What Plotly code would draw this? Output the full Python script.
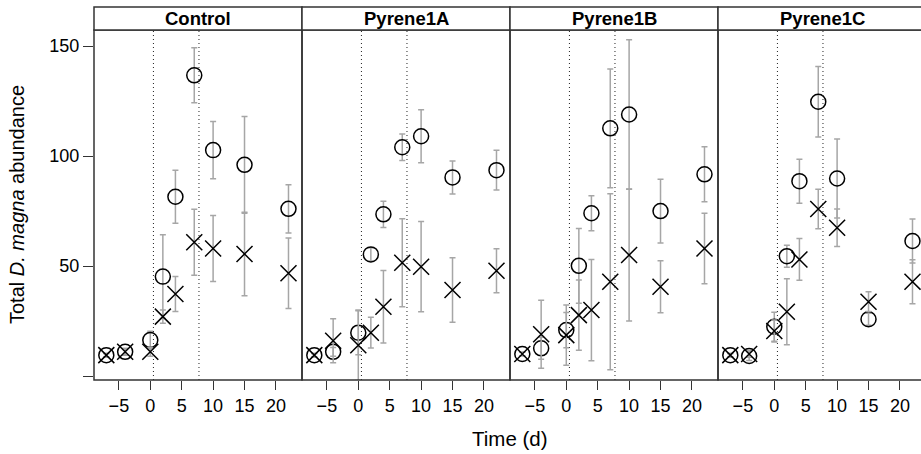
import plotly.graph_objects as go
from plotly.subplots import make_subplots

days = [-7, -4, 0, 2, 4, 7, 10, 15, 22]
panels = ["Control", "Pyrene1A", "Pyrene1B", "Pyrene1C"]

circle_mean = {
    "Control":  [9.5, 11.0, 16.4, 45.2, 81.5, 136.7, 102.7, 96.0, 76.0],
    "Pyrene1A": [9.5, 11.0, 19.7, 55.3, 73.5, 104.0, 109.0, 90.3, 93.6],
    "Pyrene1B": [10.0, 12.6, 20.9, 50.1, 74.0, 112.6, 118.9, 75.0, 91.7],
    "Pyrene1C": [9.5, 9.1, 22.4, 54.5, 88.6, 124.7, 89.8, 25.8, 61.4],
}
circle_err = {
    "Control":  [0.8, 1.5, 4.0, 19.0, 12.0, 12.5, 13.0, 22.0, 11.0],
    "Pyrene1A": [0.8, 2.0, 10.0, 3.0, 6.0, 6.0, 12.0, 7.5, 9.0],
    "Pyrene1B": [0.8, 5.0, 8.0, 17.0, 8.0, 27.0, 34.0, 14.5, 12.5],
    "Pyrene1C": [0.8, 2.0, 6.6, 5.0, 10.0, 16.0, 18.0, 2.7, 10.0],
}
cross_mean = {
    "Control":  [9.5, 11.0, 11.0, 27.0, 37.3, 60.8, 58.0, 55.5, 46.7],
    "Pyrene1A": [9.5, 16.0, 14.0, 19.7, 31.5, 51.5, 49.7, 39.1, 47.9],
    "Pyrene1B": [10.0, 19.0, 18.6, 27.7, 30.0, 42.9, 55.0, 40.6, 58.0],
    "Pyrene1C": [9.5, 10.0, 20.5, 29.2, 53.0, 75.9, 67.4, 33.8, 42.9],
}
cross_err = {
    "Control":  [0.8, 1.5, 2.0, 3.0, 8.0, 15.0, 15.0, 19.0, 16.0],
    "Pyrene1A": [0.8, 10.0, 16.0, 7.0, 16.5, 20.0, 20.5, 14.7, 10.0],
    "Pyrene1B": [0.8, 15.5, 13.7, 16.0, 23.0, 40.0, 30.0, 11.8, 16.0],
    "Pyrene1C": [0.8, 1.5, 5.0, 15.0, 9.5, 9.0, 8.5, 4.5, 10.0],
}
exposure_lines = [0.5, 7.75]
x_ticks = [-5, 0, 5, 10, 15, 20]
y_ticks = [0, 50, 100, 150]
y_ticktext = ["", "50", "100", "150"]

FONT = "Liberation Sans, Arial, Helvetica, sans-serif"
W, H = 921, 454
ML, MR, MT, MB = 94, 0, 7, 74
plot_w = W - ML - MR
plot_h = H - MT - MB
panel_px = 208
strip_px = 23
dom_top = (plot_h - strip_px) / plot_h

fig = make_subplots(rows=1, cols=4, shared_yaxes=True, horizontal_spacing=0)

err_color = "#a6a6a6"
for i, p in enumerate(panels):
    col = i + 1
    fig.add_trace(go.Scatter(
        x=days, y=circle_mean[p], mode="markers", name="circle", showlegend=False,
        marker=dict(symbol="circle-open", size=15, color="black", line=dict(width=1.5, color="black")),
        error_y=dict(type="data", array=circle_err[p], color=err_color, thickness=1.5, width=3),
    ), row=1, col=col)
    fig.add_trace(go.Scatter(
        x=days, y=cross_mean[p], mode="markers", name="cross", showlegend=False,
        marker=dict(symbol="x-thin-open", size=16, color="black", line=dict(width=1.5, color="black")),
        error_y=dict(type="data", array=cross_err[p], color=err_color, thickness=1.5, width=3),
    ), row=1, col=col)

xmin = -8.96
xspan = 33.11
edges = [ML + k * panel_px for k in range(5)]
shapes = []
annotations = []
for i, p in enumerate(panels):
    x0 = (edges[i] - ML) / plot_w
    x1 = min((edges[i + 1] - ML) / plot_w, 1.0)
    right = xmin + xspan * ((min(edges[i + 1], W) - edges[i]) / panel_px)
    axname = "xaxis" if i == 0 else f"xaxis{i+1}"
    fig.layout[axname].update(
        domain=[x0, x1], range=[xmin, right], tickvals=x_ticks,
        ticks="outside", ticklen=9, tickwidth=1, tickcolor="#333",
        showgrid=False, zeroline=False, showline=False,
        tickfont=dict(family=FONT, size=18, color="black"),
    )
    xref = "x" if i == 0 else f"x{i+1}"
    yref = "y domain" if i == 0 else f"y{i+1} domain"
    for xv in exposure_lines:
        shapes.append(dict(type="line", xref=xref, yref=yref, x0=xv, x1=xv, y0=0, y1=1,
                           line=dict(color="#222", width=1, dash="1px,3px")))
    # panel border
    shapes.append(dict(type="rect", xref="paper", yref="paper",
                       x0=(edges[i] - ML) / plot_w, x1=(edges[i + 1] - ML) / plot_w,
                       y0=0, y1=dom_top, line=dict(color="#333", width=1.5)))
    # strip
    shapes.append(dict(type="rect", xref="paper", yref="paper",
                       x0=(edges[i] - ML) / plot_w, x1=(edges[i + 1] - ML) / plot_w,
                       y0=dom_top, y1=1.0, line=dict(color="#333", width=1.5),
                       fillcolor="white"))
    annotations.append(dict(text=f"<b>{p}</b>", xref="paper", yref="paper",
                            x=((edges[i] + edges[i + 1]) / 2 - ML) / plot_w,
                            y=(dom_top + 1) / 2, showarrow=False,
                            xanchor="center", yanchor="middle",
                            font=dict(family=FONT, size=18.5, color="black")))

for i in range(4):
    axname = "yaxis" if i == 0 else f"yaxis{i+1}"
    fig.layout[axname].update(
        domain=[0, dom_top], range=[-1.8, 157.3], tickvals=y_ticks,
        showgrid=False, zeroline=False, showline=False,
    )
fig.layout.yaxis.update(ticks="outside", ticklen=10, tickwidth=1, tickcolor="#333",
                        ticktext=y_ticktext,
                        tickfont=dict(family=FONT, size=18, color="black"))

annotations.append(dict(text="Time (d)", xref="paper", yref="paper",
                        x=(510 - ML) / plot_w, y=(380 - 438) / plot_h,
                        showarrow=False, xanchor="center", yanchor="middle",
                        font=dict(family=FONT, size=20.5, color="black")))
annotations.append(dict(text="Total <i>D. magna</i> abundance", xref="paper", yref="paper",
                        x=(17 - ML) / plot_w, y=(380 - 205) / plot_h, textangle=-90,
                        showarrow=False, xanchor="center", yanchor="middle",
                        font=dict(family=FONT, size=20, color="black")))

fig.update_layout(
    width=W, height=H,
    margin=dict(l=ML, r=MR, t=MT, b=MB),
    paper_bgcolor="white", plot_bgcolor="white",
    shapes=shapes, annotations=annotations, showlegend=False,
)

fig.write_html("out.html")
